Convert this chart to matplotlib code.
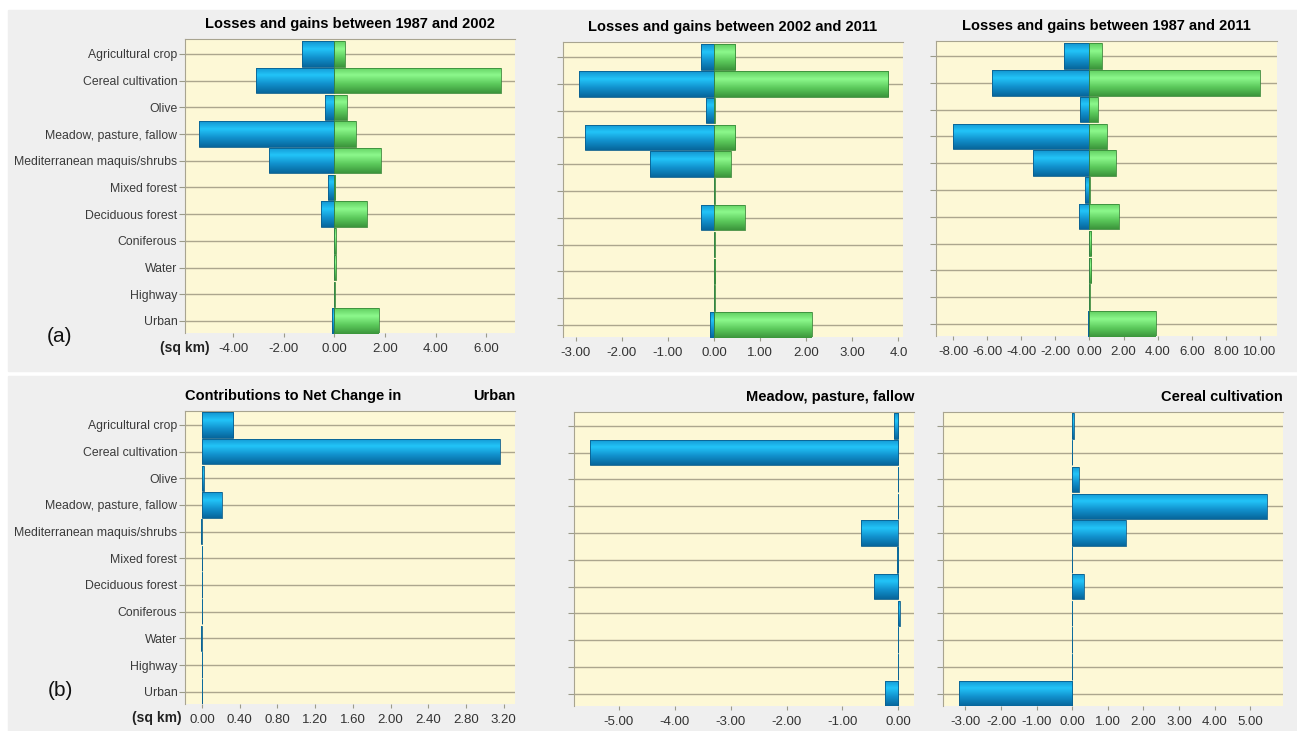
import matplotlib
matplotlib.use("Agg")
import matplotlib.pyplot as plt
import numpy as np
from matplotlib.colors import LinearSegmentedColormap
from matplotlib.patches import Rectangle

plt.rcParams['font.family'] = ['Liberation Sans', 'DejaVu Sans']

categories = ['Agricultural crop', 'Cereal cultivation', 'Olive', 'Meadow, pasture, fallow',
              'Mediterranean maquis/shrubs', 'Mixed forest', 'Deciduous forest', 'Coniferous',
              'Water', 'Highway', 'Urban']

# losses (negative) and gains (positive), sq km
loss_87_02 = [-1.29, -3.08, -0.37, -5.35, -2.59, -0.25, -0.53, -0.03, -0.03, -0.02, -0.11]
gain_87_02 = [0.41, 6.57, 0.49, 0.85, 1.83, 0.04, 1.30, 0.06, 0.06, 0.03, 1.75]
loss_02_11 = [-0.29, -2.94, -0.17, -2.81, -1.40, -0.01, -0.29, -0.005, -0.01, -0.01, -0.08]
gain_02_11 = [0.46, 3.78, 0.02, 0.46, 0.36, 0.01, 0.66, 0.01, 0.03, 0.01, 2.12]
loss_87_11 = [-1.52, -5.70, -0.54, -8.02, -3.33, -0.29, -0.62, -0.05, -0.05, -0.02, -0.10]
gain_87_11 = [0.76, 9.98, 0.49, 1.02, 1.56, 0.03, 1.72, 0.12, 0.12, 0.03, 3.88]

# contributions to net change
net_urban = [0.33, 3.16, 0.02, 0.21, -0.01, 0.005, 0.005, 0.005, -0.01, 0.005, 0.005]
net_meadow = [-0.08, -5.52, -0.005, -0.005, -0.66, -0.02, -0.43, 0.03, -0.005, -0.005, -0.24]
net_cereal = [0.05, -0.005, 0.19, 5.47, 1.50, -0.02, 0.32, -0.01, -0.01, -0.01, -3.19]

W, H = 1297, 731
fig = plt.figure(figsize=(W / 100, H / 100), dpi=100)
fig.patch.set_facecolor('white')
fig.add_artist(Rectangle((8 / W, 1 - 371 / H), 1, 361 / H, transform=fig.transFigure,
                         color='#efefef', zorder=-10))
fig.add_artist(Rectangle((8 / W, 0), 1, 1 - 376 / H, transform=fig.transFigure,
                         color='#efefef', zorder=-10))


def box(l, t, r, b):
    return [l / W, 1 - b / H, (r - l) / W, (b - t) / H]


blue = LinearSegmentedColormap.from_list('b', ['#07679c', '#1190cc', '#22c4f8'])
green = LinearSegmentedColormap.from_list('g', ['#3c963c', '#5cca5c', '#8cf88c'])
t = np.linspace(0, 1, 40)
shade = np.where(t < 0.3, 0.55 + 0.45 * t / 0.3, 1 - (t - 0.3) / 0.7).reshape(-1, 1)

y = np.arange(len(categories))[::-1]


def grad_bars(ax, vals, cmap, edge):
    bars = ax.barh(y, vals, height=0.95, facecolor='none', edgecolor=edge, linewidth=0.6, zorder=3)
    for b in bars:
        x0, x1 = sorted([b.get_x(), b.get_x() + b.get_width()])
        if x1 - x0 <= 0:
            continue
        y0 = b.get_y()
        im = ax.imshow(shade, cmap=cmap, vmin=0, vmax=1, extent=(x0, x1, y0, y0 + b.get_height()),
                       origin='upper', aspect='auto', interpolation='bilinear', zorder=2)
        im.set_clip_path(b)
    return bars


def style(ax, xlim, ticks, ylim, labels=True, ticklabels=None):
    ax.set_facecolor('#fdf8d6')
    ax.set_xlim(xlim)
    ax.set_ylim(ylim)
    ax.set_yticks(y)
    ax.set_yticklabels(categories if labels else [])
    ax.set_xticks(ticks)
    ax.set_xticklabels(ticklabels if ticklabels else ['%.2f' % v for v in ticks])
    ax.grid(axis='y', color='#aca68e', linewidth=1)
    ax.set_axisbelow(True)
    for s in ['right', 'bottom']:
        ax.spines[s].set_visible(False)
    for s in ['left', 'top']:
        ax.spines[s].set_color('#a8a490')
    ax.tick_params(axis='y', length=4, color='#9a9a8a', labelsize=8.8, labelcolor='#3a3a3a', pad=1.5)
    ax.tick_params(axis='x', length=3, color='#9a9a8a', labelsize=9.5, labelcolor='#333333', pad=4)


top_ylim = (-0.45, 10.56)
bot_ylim = (-0.46, 10.52)

# (a) losses and gains
ax = fig.add_axes(box(185, 39, 515, 333))
grad_bars(ax, loss_87_02, blue, '#0a5e8e')
grad_bars(ax, gain_87_02, green, '#3a8a3a')
style(ax, (-5.9, 7.14), np.arange(-4, 7, 2), top_ylim)
ax.set_title('Losses and gains between 1987 and 2002', fontsize=10.5, weight='bold', pad=8)

ax = fig.add_axes(box(563, 42, 903, 337))
grad_bars(ax, loss_02_11, blue, '#0a5e8e')
grad_bars(ax, gain_02_11, green, '#3a8a3a')
tk = np.arange(-3, 5, 1)
style(ax, (-3.28, 4.1), tk, top_ylim, labels=False,
      ticklabels=['%.2f' % v for v in tk[:-1]] + ['4.0'])
ax.set_title('Losses and gains between 2002 and 2011', fontsize=10.5, weight='bold', pad=8)

ax = fig.add_axes(box(936, 41, 1277, 336))
grad_bars(ax, loss_87_11, blue, '#0a5e8e')
grad_bars(ax, gain_87_11, green, '#3a8a3a')
style(ax, (-9, 11), np.arange(-8, 11, 2), top_ylim, labels=False)
ax.set_title('Losses and gains between 1987 and 2011', fontsize=10.5, weight='bold', pad=8)

# (b) contributions to net change
ax = fig.add_axes(box(185, 411, 515, 704))
grad_bars(ax, net_urban, blue, '#0a5e8e')
style(ax, (-0.18, 3.32), np.round(np.arange(0, 3.3, 0.4), 2), bot_ylim)
ax.text(0, 1.0 + 8 / 293, 'Contributions to Net Change in', transform=ax.transAxes, fontsize=10.5,
        weight='bold', ha='left', va='bottom')
ax.set_title('Urban', loc='right', fontsize=10.5, weight='bold', pad=8)

ax = fig.add_axes(box(574, 412, 914, 706))
grad_bars(ax, net_meadow, blue, '#0a5e8e')
style(ax, (-5.8, 0.28), np.arange(-5, 1, 1), bot_ylim, labels=False)
ax.set_title('Meadow, pasture, fallow', loc='right', fontsize=10.5, weight='bold', pad=8)

ax = fig.add_axes(box(943, 412, 1283, 706))
grad_bars(ax, net_cereal, blue, '#0a5e8e')
style(ax, (-3.63, 5.92), np.arange(-3, 6, 1), bot_ylim, labels=False)
ax.set_title('Cereal cultivation', loc='right', fontsize=10.5, weight='bold', pad=8)

fig.text(210 / W, 1 - 348 / H, '(sq km)', fontsize=10, weight='bold', ha='right', va='center', color='#222222')
fig.text(182 / W, 1 - 718 / H, '(sq km)', fontsize=10, weight='bold', ha='right', va='center', color='#222222')
fig.text(60 / W, 1 - 337 / H, '(a)', fontsize=15, ha='center', va='center', color='#111111')
fig.text(60 / W, 1 - 690 / H, '(b)', fontsize=15, ha='center', va='center', color='#111111')

fig.savefig('out.png', dpi=100)
